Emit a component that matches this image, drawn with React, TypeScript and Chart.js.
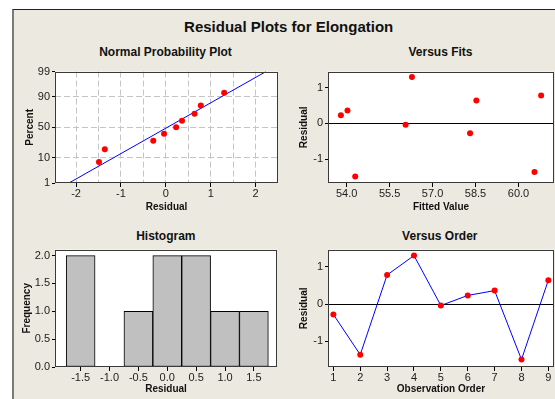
import React, { useEffect, useRef } from "react";
import { Chart, registerables } from "chart.js";

Chart.register(...registerables);

// ---------------- data ----------------
const observationOrder = [1, 2, 3, 4, 5, 6, 7, 8, 9];
const residualsByOrder = [-0.28, -1.36, 0.78, 1.3, -0.04, 0.23, 0.36, -1.49, 0.64];
const fittedValues = [58.31, 60.56, 60.79, 56.28, 56.06, 53.8, 54.03, 54.3, 58.53];
const sortedResiduals = [-1.49, -1.36, -0.28, -0.04, 0.23, 0.36, 0.64, 0.78, 1.3];
const normalPercents = [7.4, 18.1, 28.7, 39.4, 50.0, 60.6, 71.3, 81.9, 92.6];
const fitLineResiduals = [-2.16, 2.23];
const fitLinePercents = [1, 99];
const percentTicks = [1, 10, 50, 90, 99];
const histBinCenters = [-1.5, -1.0, -0.5, 0.0, 0.5, 1.0, 1.5];
const histFrequencies = [2, 0, 1, 2, 2, 1, 1];

// ---------------- helpers ----------------
const FONT = "'Liberation Sans', Arial, sans-serif";
const BG = "#ECE9E0";
const TRANSPARENT = "rgba(0,0,0,0)";

function probit(p: number): number {
  const a = [-39.69683028665376, 220.9460984245205, -275.9285104469687, 138.357751867269, -30.66479806614716, 2.506628277459239];
  const b = [-54.47609879822406, 161.5858368580409, -155.6989798598866, 66.80131188771972, -13.28068155288572];
  const c = [-0.007784894002430293, -0.3223964580411365, -2.400758277161838, -2.549732539343734, 4.374664141464968, 2.938163982698783];
  const d = [0.007784695709041462, 0.3224671290700398, 2.445134137142996, 3.754408661907416];
  const pl = 0.02425;
  const ph = 1 - pl;
  if (p < pl) {
    const q = Math.sqrt(-2 * Math.log(p));
    return (((((c[0] * q + c[1]) * q + c[2]) * q + c[3]) * q + c[4]) * q + c[5]) / ((((d[0] * q + d[1]) * q + d[2]) * q + d[3]) * q + 1);
  }
  if (p <= ph) {
    const q = p - 0.5;
    const r = q * q;
    return ((((((a[0] * r + a[1]) * r + a[2]) * r + a[3]) * r + a[4]) * r + a[5]) * q) / (((((b[0] * r + b[1]) * r + b[2]) * r + b[3]) * r + b[4]) * r + 1);
  }
  const q = Math.sqrt(-2 * Math.log(1 - p));
  return -(((((c[0] * q + c[1]) * q + c[2]) * q + c[3]) * q + c[4]) * q + c[5]) / ((((d[0] * q + d[1]) * q + d[2]) * q + d[3]) * q + 1);
}

const plotFrame = {
  id: "plotFrame",
  beforeDraw(chart: any) {
    const { ctx, chartArea: a } = chart;
    ctx.save();
    ctx.fillStyle = "#ffffff";
    ctx.fillRect(a.left, a.top, a.right - a.left, a.bottom - a.top);
    ctx.restore();
  },
  afterDraw(chart: any) {
    const { ctx, chartArea: a } = chart;
    ctx.save();
    ctx.strokeStyle = "#3a3a3a";
    ctx.lineWidth = 1;
    const l = Math.round(a.left) + 0.5;
    const t = Math.round(a.top) + 0.5;
    const r = Math.round(a.right) - 0.5;
    const b = Math.round(a.bottom) - 0.5;
    ctx.strokeRect(l, t, r - l, b - t);
    ctx.restore();
  },
};

const tickFont = { family: FONT, size: 11 };
const axisTitle = (text: string) => ({
  display: true,
  text,
  color: "#111",
  font: { family: FONT, size: 10, weight: "bold" as const },
  padding: { top: 4, bottom: 4 },
});

const baseOptions = (padding: any) => ({
  animation: false as const,
  responsive: false,
  maintainAspectRatio: false,
  layout: { padding },
  plugins: { legend: { display: false }, tooltip: { enabled: false }, title: { display: false } },
});

const fixW = (w: number) => (s: any) => {
  s.width = w;
};
const fixH = (h: number) => (s: any) => {
  s.height = h;
};

// ---------------- configs ----------------
function normalConfig(): any {
  return {
    type: "scatter",
    data: {
      datasets: [
        {
          data: fitLineResiduals.map((x, i) => ({ x, y: probit(fitLinePercents[i] / 100) })),
          showLine: true,
          borderColor: "#0000FF",
          borderWidth: 1,
          pointRadius: 0,
          order: 2,
        },
        {
          data: sortedResiduals.map((x, i) => ({ x, y: probit(normalPercents[i] / 100) })),
          pointRadius: 3,
          backgroundColor: "#FF0000",
          borderColor: "#FF0000",
          borderWidth: 0,
          order: 1,
        },
      ],
    },
    options: {
      ...baseOptions({ left: 6, right: 6, top: 8, bottom: 0 }),
      scales: {
        x: {
          type: "linear",
          min: -2.47,
          max: 2.5,
          afterFit: fixH(34),
          ticks: {
            stepSize: 0.5,
            includeBounds: false,
            font: tickFont,
            color: "#222",
            padding: 0,
            maxRotation: 0,
            autoSkip: false,
            callback: (v: number) => (Math.abs(v - Math.round(v)) < 1e-9 ? String(Math.round(v)) : ""),
          },
          grid: {
            color: (ctx: any) => (ctx.tick && Math.abs(ctx.tick.value) < 2.4 ? "#C4C4C4" : TRANSPARENT),
            tickColor: (ctx: any) => (ctx.tick && Math.abs(ctx.tick.value - Math.round(ctx.tick.value)) < 1e-9 ? "#000" : TRANSPARENT),
            tickLength: 4,
            tickBorderDash: [],
            lineWidth: 1,
          },
          border: { display: false, dash: [6, 3] },
          title: axisTitle("Residual"),
        },
        y: {
          type: "linear",
          min: probit(0.01),
          max: probit(0.99),
          afterFit: fixW(35),
          afterBuildTicks: (s: any) => {
            s.ticks = percentTicks.map((p) => ({ value: probit(p / 100) }));
          },
          ticks: {
            font: tickFont,
            color: "#222",
            padding: 2,
            autoSkip: false,
            callback: (_v: number, i: number) => String(percentTicks[i]),
          },
          grid: {
            color: (ctx: any) => (ctx.index > 0 && ctx.index < percentTicks.length - 1 ? "#C4C4C4" : TRANSPARENT),
            tickColor: "#000",
            tickLength: 3,
            tickBorderDash: [],
          },
          border: { display: false, dash: [6, 3] },
          title: axisTitle("Percent"),
        },
      },
    },
    plugins: [plotFrame],
  };
}

function zeroLineGrid() {
  return {
    color: (ctx: any) => (ctx.tick && Math.abs(ctx.tick.value) < 1e-9 ? "#000" : TRANSPARENT),
    tickColor: "#000",
    tickLength: 3,
  };
}

function fitsConfig(): any {
  return {
    type: "scatter",
    data: {
      datasets: [
        {
          data: fittedValues.map((x, i) => ({ x, y: residualsByOrder[i] })),
          pointRadius: 3,
          backgroundColor: "#FF0000",
          borderColor: "#FF0000",
          borderWidth: 0,
        },
      ],
    },
    options: {
      ...baseOptions({ left: 4, right: 6, top: 8, bottom: 0 }),
      scales: {
        x: {
          type: "linear",
          min: 53.35,
          max: 61.24,
          afterFit: fixH(34),
          ticks: {
            stepSize: 1.5,
            includeBounds: false,
            font: tickFont,
            color: "#222",
            padding: 0,
            maxRotation: 0,
            autoSkip: false,
            callback: (v: number) => v.toFixed(1),
          },
          grid: { color: TRANSPARENT, tickColor: "#000", tickLength: 4 },
          border: { display: false },
          title: axisTitle("Fitted Value"),
        },
        y: {
          type: "linear",
          min: -1.67,
          max: 1.45,
          afterFit: fixW(34),
          ticks: { stepSize: 1, includeBounds: false, font: tickFont, color: "#222", padding: 2, callback: (v: number) => String(v) },
          grid: zeroLineGrid(),
          border: { display: false },
          title: axisTitle("Residual"),
        },
      },
    },
    plugins: [plotFrame],
  };
}

function histConfig(): any {
  return {
    type: "bar",
    data: {
      datasets: [
        {
          data: histBinCenters.map((x, i) => ({ x, y: histFrequencies[i] })),
          backgroundColor: "#C0C0C0",
          borderColor: "#000",
          borderWidth: 1,
          borderSkipped: false,
          barPercentage: 1,
          categoryPercentage: 1,
        },
      ],
    },
    options: {
      ...baseOptions({ left: 3, right: 7, top: 8, bottom: 0 }),
      scales: {
        x: {
          type: "linear",
          offset: false,
          min: -1.944,
          max: 1.9,
          afterFit: fixH(32),
          ticks: {
            stepSize: 0.5,
            includeBounds: false,
            font: tickFont,
            color: "#222",
            padding: 0,
            maxRotation: 0,
            autoSkip: false,
            callback: (v: number) => v.toFixed(1),
          },
          grid: { offset: false, color: TRANSPARENT, tickColor: "#000", tickLength: 4 },
          border: { display: false },
          title: axisTitle("Residual"),
        },
        y: {
          type: "linear",
          min: 0,
          max: 2.107,
          afterFit: fixW(38),
          ticks: { stepSize: 0.5, includeBounds: false, font: tickFont, color: "#222", padding: 2, callback: (v: number) => v.toFixed(1) },
          grid: { color: TRANSPARENT, tickColor: "#000", tickLength: 3 },
          border: { display: false },
          title: axisTitle("Frequency"),
        },
      },
    },
    plugins: [plotFrame],
  };
}

function orderConfig(): any {
  return {
    type: "scatter",
    data: {
      datasets: [
        {
          data: observationOrder.map((x, i) => ({ x, y: residualsByOrder[i] })),
          showLine: true,
          borderColor: "#0000FF",
          borderWidth: 1,
          pointRadius: 3,
          pointBackgroundColor: "#FF0000",
          pointBorderColor: "#FF0000",
          pointBorderWidth: 0,
        },
      ],
    },
    options: {
      ...baseOptions({ left: 4, right: 6, top: 8, bottom: 0 }),
      scales: {
        x: {
          type: "linear",
          min: 0.8,
          max: 9.21,
          afterFit: fixH(32),
          ticks: {
            stepSize: 1,
            includeBounds: false,
            font: tickFont,
            color: "#222",
            padding: 0,
            maxRotation: 0,
            autoSkip: false,
            callback: (v: number) => String(v),
          },
          grid: { color: TRANSPARENT, tickColor: "#000", tickLength: 4 },
          border: { display: false },
          title: axisTitle("Observation Order"),
        },
        y: {
          type: "linear",
          min: -1.69,
          max: 1.46,
          afterFit: fixW(34),
          ticks: { stepSize: 1, includeBounds: false, font: tickFont, color: "#222", padding: 2, callback: (v: number) => String(v) },
          grid: zeroLineGrid(),
          border: { display: false },
          title: axisTitle("Residual"),
        },
      },
    },
    plugins: [plotFrame],
  };
}

// ---------------- component ----------------
function titleStyle(cx: number, cy: number, size: number): React.CSSProperties {
  const h = Math.round(size * 1.2);
  return {
    position: "absolute",
    left: cx - 150,
    width: 300,
    top: cy - h / 2,
    height: h,
    lineHeight: `${h}px`,
    textAlign: "center",
    fontWeight: "bold",
    fontSize: size,
    fontFamily: FONT,
    color: "#111",
    whiteSpace: "nowrap",
  };
}

function canvasStyle(left: number, top: number, w: number, h: number): React.CSSProperties {
  return { position: "absolute", left, top, width: w, height: h, display: "block" };
}

export default function App() {
  const c1 = useRef<HTMLCanvasElement>(null);
  const c2 = useRef<HTMLCanvasElement>(null);
  const c3 = useRef<HTMLCanvasElement>(null);
  const c4 = useRef<HTMLCanvasElement>(null);

  useEffect(() => {
    Chart.defaults.font.family = FONT;
    const charts = [
      new Chart(c1.current as HTMLCanvasElement, normalConfig()),
      new Chart(c2.current as HTMLCanvasElement, fitsConfig()),
      new Chart(c3.current as HTMLCanvasElement, histConfig()),
      new Chart(c4.current as HTMLCanvasElement, orderConfig()),
    ];
    return () => charts.forEach((c) => c.destroy());
  }, []);

  return (
    <div style={{ position: "fixed", left: 0, top: 0, width: 555, height: 399, overflow: "hidden", background: "#fff" }}>
      <div
        style={{
          position: "absolute",
          left: 12,
          top: 9,
          width: 600,
          height: 420,
          background: BG,
          borderLeft: "2px solid #7a7a7a",
          borderTop: "1px solid #222",
        }}
      />
      <div style={titleStyle(288.7, 26.7, 15)}>Residual Plots for Elongation</div>
      <div style={titleStyle(165.5, 52, 12)}>Normal Probability Plot</div>
      <div style={titleStyle(440.5, 52, 12)}>Versus Fits</div>
      <div style={titleStyle(165.8, 236, 12)}>Histogram</div>
      <div style={titleStyle(439.8, 235.5, 12)}>Versus Order</div>
      <canvas ref={c1} width={270} height={154} style={canvasStyle(14, 63, 270, 154)} />
      <canvas ref={c2} width={270} height={154} style={canvasStyle(290, 63, 270, 154)} />
      <canvas ref={c3} width={270} height={158} style={canvasStyle(14, 241, 270, 158)} />
      <canvas ref={c4} width={270} height={158} style={canvasStyle(290, 241, 270, 158)} />
    </div>
  );
}
